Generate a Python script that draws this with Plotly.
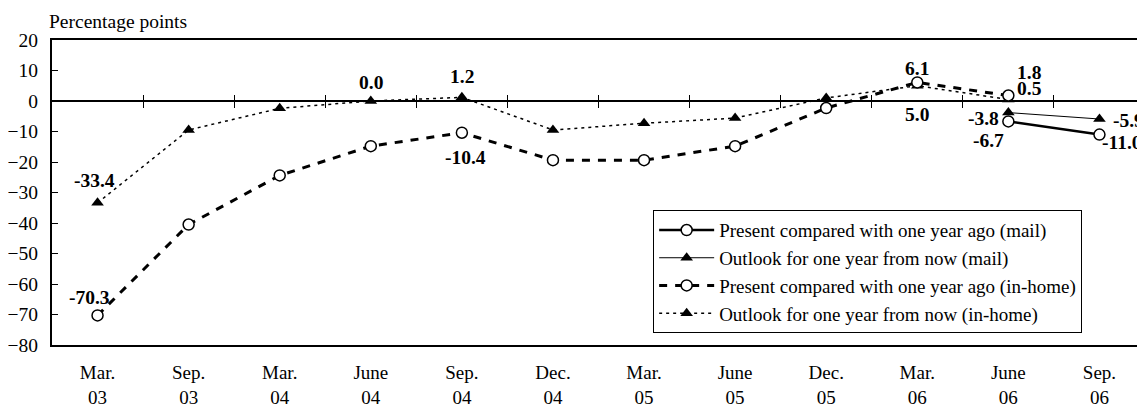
import plotly.graph_objects as go

categories = ["Mar.<br>03", "Sep.<br>03", "Mar.<br>04", "June<br>04", "Sep.<br>04", "Dec.<br>04",
              "Mar.<br>05", "June<br>05", "Dec.<br>05", "Mar.<br>06", "June<br>06", "Sep.<br>06"]

mail_categories = ["June<br>06", "Sep.<br>06"]
mail_present = [-6.7, -11.0]
mail_outlook = [-3.8, -5.9]

inhome_categories = categories[:11]
inhome_present = [-70.3, -40.5, -24.4, -14.8, -10.4, -19.4, -19.4, -14.8, -2.3, 6.1, 1.8]
inhome_outlook = [-33.4, -9.5, -2.4, 0.0, 1.2, -9.5, -7.3, -5.6, 1.0, 5.0, 0.5]

names = ["Present compared with one year ago (mail)",
         "Outlook for one year from now (mail)",
         "Present compared with one year ago (in-home)",
         "Outlook for one year from now (in-home)"]

FONT = '"Liberation Serif", "Times New Roman", Times, serif'

fig = go.Figure()

fig.add_trace(go.Scatter(
    x=inhome_categories, y=inhome_outlook, name=names[3], mode="lines+markers",
    line=dict(color="black", width=1.5, dash="3px,4px"),
    marker=dict(symbol="triangle-up", size=11, color="black"),
    legendrank=4, cliponaxis=False))
fig.add_trace(go.Scatter(
    x=inhome_categories, y=inhome_present, name=names[2], mode="lines+markers",
    line=dict(color="black", width=3, dash="8px,8px"),
    marker=dict(symbol="circle", size=11, color="white", line=dict(color="black", width=1.5)),
    legendrank=3, cliponaxis=False))
fig.add_trace(go.Scatter(
    x=mail_categories, y=mail_outlook, name=names[1], mode="lines+markers",
    line=dict(color="black", width=1),
    marker=dict(symbol="triangle-up", size=11, color="black"),
    legendrank=2, cliponaxis=False))
fig.add_trace(go.Scatter(
    x=mail_categories, y=mail_present, name=names[0], mode="lines+markers",
    line=dict(color="black", width=2.5),
    marker=dict(symbol="circle", size=11, color="white", line=dict(color="black", width=1.5)),
    legendrank=1, cliponaxis=False))

# data labels: (category, value, xshift, yshift, xanchor)
label_specs = [
    (categories[0], inhome_outlook[0], -3, 22, "center"),
    (categories[0], inhome_present[0], -8, 18, "center"),
    (categories[3], inhome_outlook[3], 0, 19, "center"),
    (categories[4], inhome_outlook[4], 0, 21, "center"),
    (categories[4], inhome_present[4], 4, -25, "center"),
    (categories[9], inhome_present[9], 0, 14, "center"),
    (categories[9], inhome_outlook[9], 0, -29, "center"),
    (categories[10], inhome_present[10], 21, 23, "center"),
    (categories[10], inhome_outlook[10], 21, 11, "center"),
    (mail_categories[0], mail_outlook[0], -25, -6, "center"),
    (mail_categories[0], mail_present[0], -20, -19, "center"),
    (mail_categories[1], mail_outlook[1], 12, -1, "left"),
    (mail_categories[1], mail_present[1], 1, -8, "left"),
]
for cat, val, xs, ys, xa in label_specs:
    fig.add_annotation(x=cat, y=val, text="<b>%.1f</b>" % val, showarrow=False, xanchor=xa,
                       xshift=xs, yshift=ys, font=dict(family=FONT, size=19.5, color="black"))

fig.add_annotation(xref="paper", yref="paper", x=-0.005, y=1.02, xanchor="left", yanchor="bottom",
                   text="Percentage points", showarrow=False,
                   font=dict(family=FONT, size=19.5, color="black"))

boundaries = [i + 0.5 for i in range(11)]

fig.update_layout(
    width=1137, height=400,
    margin=dict(l=44, r=0, t=32, b=63, autoexpand=False),
    paper_bgcolor="white", plot_bgcolor="white",
    font=dict(family=FONT, size=19.5, color="black"),
    showlegend=True,
    legend=dict(x=0.55, y=0.442, xanchor="left", yanchor="top",
                bgcolor="white", bordercolor="black", borderwidth=1,
                font=dict(family=FONT, size=19, color="black"),
                itemwidth=55, tracegroupgap=0),
    xaxis=dict(type="category", categoryorder="array", categoryarray=categories,
               range=[-0.5, 11.5], showline=True, linecolor="black", linewidth=2, mirror=True,
               ticks="", showgrid=False, zeroline=False, ticklabelstandoff=9, automargin=False,
               tickfont=dict(family=FONT, size=19, color="black")),
    xaxis2=dict(overlaying="x", anchor="free", position=0.8, side="bottom",
                range=[-0.5, 11.5], tickvals=boundaries, ticks="outside", ticklen=6,
                tickwidth=1, tickcolor="black", showticklabels=False, showgrid=False,
                zeroline=False, showline=False),
    xaxis3=dict(overlaying="x", anchor="free", position=0.8, side="top",
                range=[-0.5, 11.5], tickvals=boundaries, ticks="outside", ticklen=6,
                tickwidth=1, tickcolor="black", showticklabels=False, showgrid=False,
                zeroline=False, showline=False),
    yaxis=dict(range=[-80, 20], dtick=10, tick0=0, ticks="inside", ticklen=6, tickcolor="black",
               showline=True, linecolor="black", linewidth=2, showgrid=False,
               zeroline=True, zerolinecolor="black", zerolinewidth=2, automargin=False,
               ticklabelstandoff=8, tickfont=dict(family=FONT, size=19.5, color="black")),
)

# invisible traces to activate the tick axes
fig.add_trace(go.Scatter(x=[None], y=[None], xaxis="x2", showlegend=False, hoverinfo="skip"))
fig.add_trace(go.Scatter(x=[None], y=[None], xaxis="x3", showlegend=False, hoverinfo="skip"))

fig.write_html("out.html")
